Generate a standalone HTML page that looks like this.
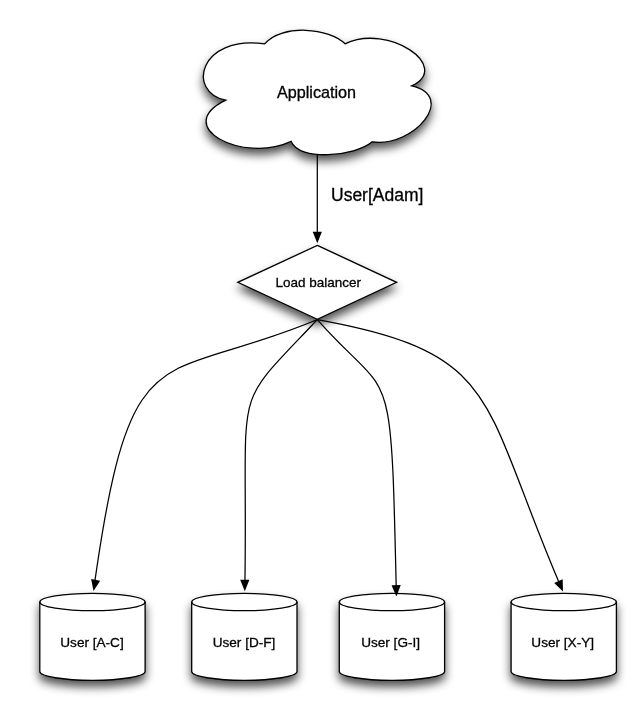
<!DOCTYPE html>
<html>
<head>
<meta charset="utf-8">
<title>Sharding diagram</title>
<style>
  html, body { margin: 0; padding: 0; background: #ffffff; }
  body { width: 642px; height: 728px; overflow: hidden; }
  svg { display: block; }
  text { font-family: "Liberation Sans", Arial, Helvetica, sans-serif; fill: #000; stroke: #000; stroke-width: 0.3px; }
</style>
</head>
<body>
<svg width="642" height="728" viewBox="0 0 642 728">
  <defs>
    <filter id="sh" x="-20%" y="-20%" width="140%" height="170%">
      <feGaussianBlur in="SourceAlpha" stdDeviation="4.7"/>
      <feOffset dx="0" dy="6" result="b"/>
      <feComponentTransfer><feFuncA type="linear" slope="0.68"/></feComponentTransfer>
      <feMerge><feMergeNode/><feMergeNode in="SourceGraphic"/></feMerge>
    </filter>
    <filter id="soft" x="0" y="0" width="642" height="728" filterUnits="userSpaceOnUse">
      <feGaussianBlur stdDeviation="0.3"/>
    </filter>
    <filter id="soft2" x="0" y="0" width="642" height="728" filterUnits="userSpaceOnUse">
      <feGaussianBlur stdDeviation="0.45"/>
    </filter>
  </defs>
  <rect width="642" height="728" fill="#ffffff"/>
  <g filter="url(#soft)">
  <!-- cloud -->
  <g filter="url(#sh)">
    <path fill="#fff" stroke="#000" stroke-width="1.3" stroke-linejoin="miter"
      d="M264.7,43.9 C282.0,23.5 329.8,28.0 345.0,43.8 C388.3,22.9 452.4,66.8 411.7,85.8 C457.2,96.3 414.1,147.6 372.2,141.8 C354.8,156.6 299.4,161.5 291.2,141.4 C243.2,163.7 171.0,127.0 225.7,100.2 C186.5,92.1 198.7,35.0 264.7,43.9 Z"/>
  </g>
  <!-- diamond -->
  <g filter="url(#sh)">
    <path fill="#fff" stroke="#000" stroke-width="1.3" d="M317.3,245.4 L396.6,282.3 L317.3,319.4 L237.8,282.3 Z"/>
  </g>
  <!-- databases -->
  <g filter="url(#sh)">
    <path fill="#fff" stroke="#000" stroke-width="1.3" d="M39.8,602.0 A52.65,8.7 0 0 1 145.1,602.0 L145.1,671.6 A52.65,8.7 0 0 1 39.8,671.6 Z"/>
    <path fill="none" stroke="#000" stroke-width="1.3" d="M39.8,602.0 A52.65,8.7 0 0 0 145.1,602.0"/>
  </g>
  <g filter="url(#sh)">
    <path fill="#fff" stroke="#000" stroke-width="1.3" d="M191.7,602.0 A52.65,8.7 0 0 1 297.0,602.0 L297.0,671.6 A52.65,8.7 0 0 1 191.7,671.6 Z"/>
    <path fill="none" stroke="#000" stroke-width="1.3" d="M191.7,602.0 A52.65,8.7 0 0 0 297.0,602.0"/>
  </g>
  <g filter="url(#sh)">
    <path fill="#fff" stroke="#000" stroke-width="1.3" d="M339.3,602.0 A52.65,8.7 0 0 1 444.6,602.0 L444.6,671.6 A52.65,8.7 0 0 1 339.3,671.6 Z"/>
    <path fill="none" stroke="#000" stroke-width="1.3" d="M339.3,602.0 A52.65,8.7 0 0 0 444.6,602.0"/>
  </g>
  <g filter="url(#sh)">
    <path fill="#fff" stroke="#000" stroke-width="1.3" d="M511.1,602.0 A52.65,8.7 0 0 1 616.4,602.0 L616.4,671.6 A52.65,8.7 0 0 1 511.1,671.6 Z"/>
    <path fill="none" stroke="#000" stroke-width="1.3" d="M511.1,602.0 A52.65,8.7 0 0 0 616.4,602.0"/>
  </g>
  </g>
  <!-- connectors -->
  <g filter="url(#soft2)">
  <g fill="none" stroke="#000" stroke-width="1.25">
    <path d="M317.3,154 L317.3,233"/>
    <path d="M317.3,319.6 C158.7,385.8 130.9,325.9 94.3,585.1"/>
    <path d="M317.3,319.6 C228.6,414.0 248.2,375.0 244.9,584.8"/>
    <path d="M317.3,319.6 C392.3,405.0 390.8,347.6 396.3,591.0"/>
    <path d="M317.3,319.6 C502.8,353.3 479.9,398.2 560.5,585.9"/>
  </g>
  <g fill="#000" stroke="none">
    <path d="M317.30,243.20 L312.70,231.80 L321.90,231.80 Z"/>
    <path d="M93.50,591.00 L91.15,578.93 L100.19,580.68 Z"/>
    <path d="M244.80,591.20 L240.20,579.80 L249.40,579.80 Z"/>
    <path d="M396.40,596.60 L391.55,585.31 L400.74,585.10 Z"/>
    <path d="M563.00,591.60 L554.24,582.98 L562.68,579.31 Z"/>
  </g>
  </g>
  <!-- labels -->
  <g filter="url(#soft)">
  <text x="316.5" y="97.9" font-size="16.2" text-anchor="middle">Application</text>
  <text x="331" y="201" font-size="17.5">User[Adam]</text>
  <text x="318.3" y="286.9" font-size="13.5" text-anchor="middle">Load balancer</text>
  <text x="92.0" y="646.9" font-size="13.6" text-anchor="middle">User [A-C]</text>
  <text x="244.0" y="646.9" font-size="13.6" text-anchor="middle">User [D-F]</text>
  <text x="390.6" y="646.9" font-size="13.6" text-anchor="middle">User [G-I]</text>
  <text x="562.7" y="646.9" font-size="13.6" text-anchor="middle">User [X-Y]</text>
  </g>
</svg>
</body>
</html>
